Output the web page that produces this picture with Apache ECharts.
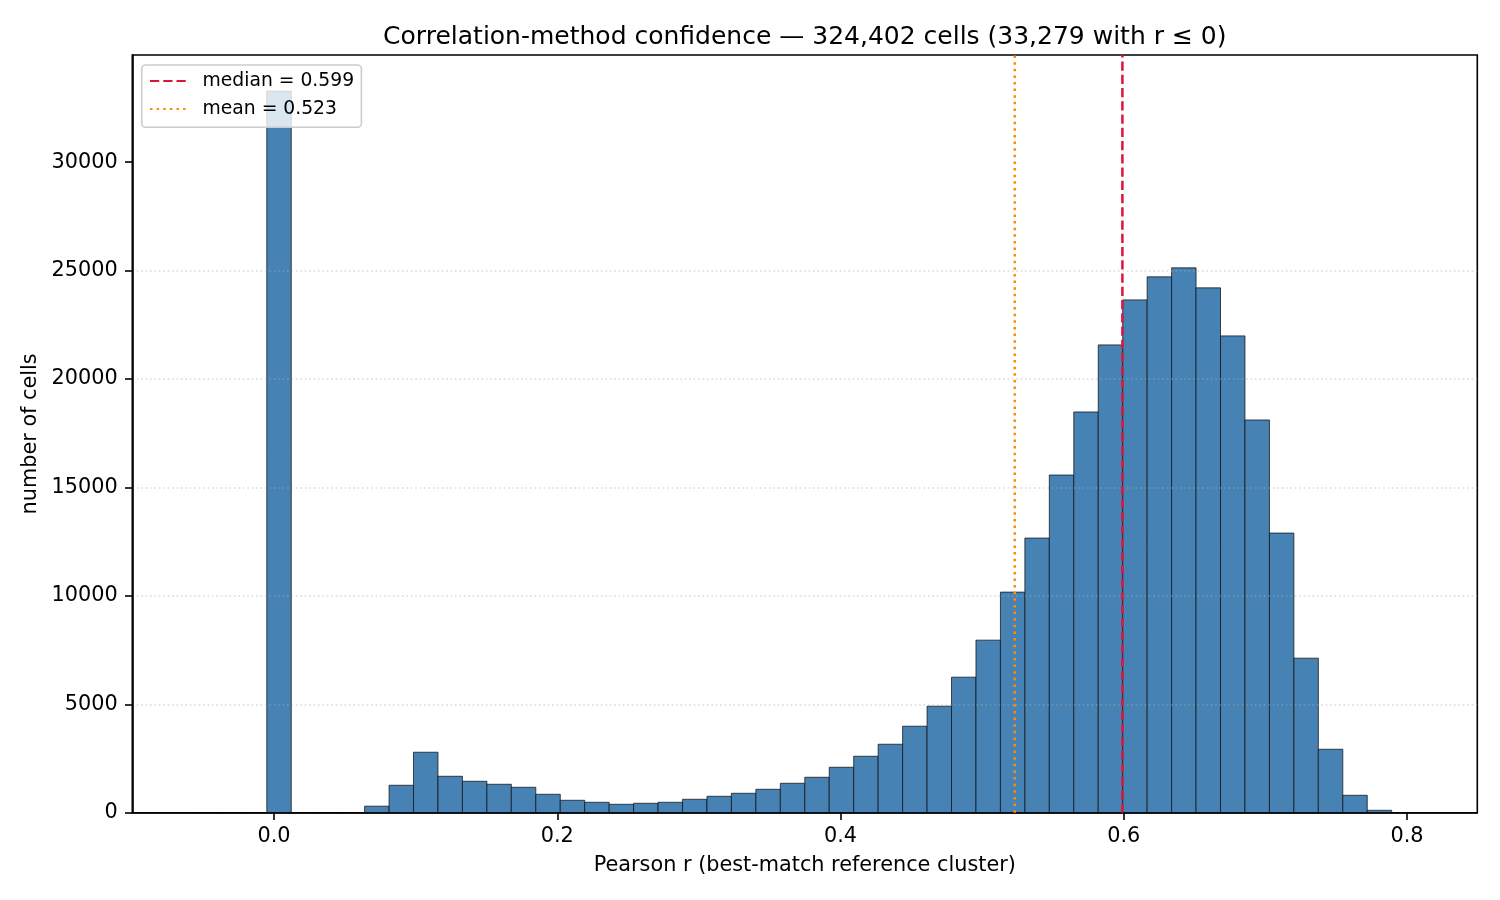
<!DOCTYPE html>
<html>
<head>
<meta charset="utf-8">
<script src="https://cdn.jsdelivr.net/npm/echarts@6/dist/echarts.min.js"></script>
<style>html,body{margin:0;padding:0;background:#fff}#c{width:1500px;height:900px}</style>
</head>
<body>
<div id="c"></div>
<script>
// ---- data ----
const binStart = -0.05693;      // left edge of first histogram bin
const binWidth = 0.017267;      // width of each bin
const binCounts = [0,0,0,33279,0,0,0,300,1265,2788,1680,1449,1311,1172,849,572,480,
  388,434,480,618,757,895,1080,1357,1634,2095,2603,3157,3988,4911,6250,7957,10173,12665,15573,18481,
  21573,23650,24712,25127,24204,21988,18111,12896,7126,2926,803,111,8];
const medianR = 0.599;
const meanR = 0.523;
const xTicks = [0.0, 0.2, 0.4, 0.6, 0.8];
const yTicks = [0, 5000, 10000, 15000, 20000, 25000, 30000];
const xMin = -0.1001, xMax = 0.8496;
const yMax = 34943;
const titleText = 'Correlation-method confidence \u2014 324,402 cells (33,279 with r \u2264 0)';
const xName = 'Pearson r (best-match reference cluster)';
const yName = 'number of cells';

const histData = binCounts.map((c, i) => [binStart + i * binWidth, binStart + (i + 1) * binWidth, c]);
const medianName = 'median = ' + medianR.toFixed(3);
const meanName = 'mean = ' + meanR.toFixed(3);

const chart = echarts.init(document.getElementById('c'), null, {renderer: 'canvas'});
const FONT = 'DejaVu Sans';
chart.setOption({
  animation: false,
  backgroundColor: '#ffffff',
  textStyle: {fontFamily: FONT},
  title: {
    text: titleText, left: 804.8, top: 25, textAlign: 'center', padding: 0,
    textStyle: {fontFamily: FONT, fontSize: 25, fontWeight: 'normal', color: '#000'}
  },
  grid: {
    left: 132.3, right: 22.7, top: 55, bottom: 87.3,
    containLabel: false, outerBoundsMode: 'none',
    show: true, borderColor: '#000', borderWidth: 1.6, backgroundColor: 'transparent'
  },
  legend: {
    orient: 'vertical', left: 141.7, top: 65,
    padding: [6.5, 7.3, 8.8, 7.3],
    itemWidth: 37, itemHeight: 19, itemGap: 9,
    backgroundColor: 'rgba(255,255,255,0.8)', borderColor: '#cccccc', borderWidth: 1.6, borderRadius: 4,
    itemStyle: {opacity: 0},
    textStyle: {fontFamily: FONT, fontSize: 18.75, color: '#000', padding: [0, 0, 0, 10.5], lineHeight: 19},
    data: [medianName, meanName]
  },
  xAxis: {
    type: 'value', min: xMin, max: xMax, z: 3,
    axisLine: {show: true, onZero: false, lineStyle: {color: '#000', width: 1.6}},
    axisTick: {show: true, inside: false, length: 7.3, customValues: xTicks, lineStyle: {color: '#000', width: 1.6}},
    axisLabel: {customValues: xTicks, formatter: v => v.toFixed(1), fontSize: 20.8, color: '#000', margin: 13, fontFamily: FONT},
    splitLine: {show: false},
    name: xName, nameLocation: 'middle', nameGap: 42,
    nameTextStyle: {fontSize: 20.8, color: '#000', fontFamily: FONT}
  },
  yAxis: {
    type: 'value', min: 0, max: yMax, interval: 5000, z: 3,
    axisLine: {show: true, onZero: false, lineStyle: {color: '#000', width: 1.6}},
    axisTick: {show: true, inside: false, length: 7.3, customValues: yTicks, lineStyle: {color: '#000', width: 1.6}},
    axisLabel: {customValues: yTicks, formatter: v => String(v), fontSize: 20.8, color: '#000', margin: 14.6, fontFamily: FONT},
    splitLine: {show: true, showMinLine: false, showMaxLine: false,
      lineStyle: {color: 'rgba(176,176,176,0.45)', width: 1.67, type: [1.67, 2.75]}},
    name: yName, nameLocation: 'middle', nameGap: 89, nameRotate: 90,
    nameTextStyle: {fontSize: 20.8, color: '#000', fontFamily: FONT}
  },
  series: [
    {
      type: 'custom', name: 'hist', z: 2,
      data: histData,
      encode: {x: [0, 1], y: 2},
      renderItem: function (params, api) {
        const p0 = api.coord([api.value(0), 0]);
        const p1 = api.coord([api.value(1), api.value(2)]);
        return {
          type: 'rect',
          shape: {x: p0[0], y: p1[1], width: p1[0] - p0[0], height: p0[1] - p1[1]},
          style: {fill: '#4682b4', stroke: 'rgba(20,20,20,0.85)', lineWidth: 0.9}
        };
      }
    },
    {
      type: 'line', name: medianName, z: 4, symbol: 'none',
      data: [[medianR, 0], [medianR, yMax]],
      lineStyle: {color: '#dc143c', width: 2.5, type: [9.25, 4.0]},
      itemStyle: {color: '#dc143c'}
    },
    {
      type: 'line', name: meanName, z: 4, symbol: 'none',
      data: [[meanR, 0], [meanR, yMax]],
      lineStyle: {color: '#ff8c00', width: 2.5, type: [2.5, 4.12]},
      itemStyle: {color: '#ff8c00'}
    }
  ]
});
</script>
</body>
</html>
